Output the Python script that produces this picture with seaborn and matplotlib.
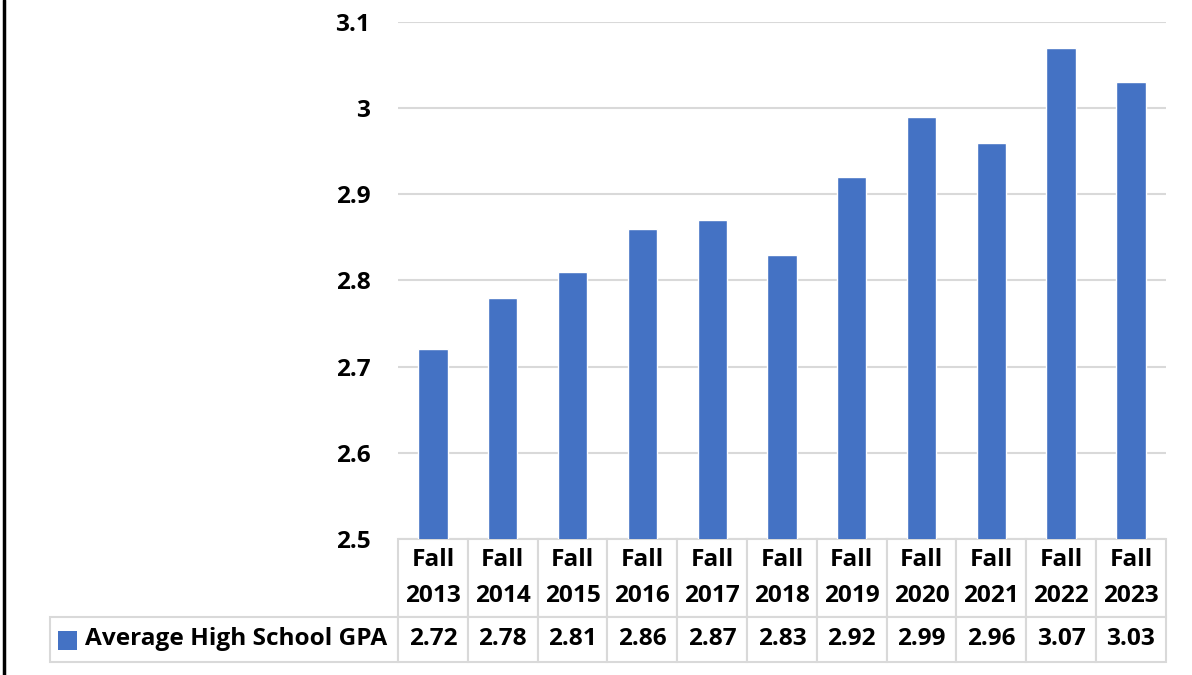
import matplotlib
matplotlib.use("Agg")
import matplotlib.pyplot as plt
import seaborn as sns
import pandas as pd
from matplotlib.patches import Rectangle
from matplotlib.lines import Line2D
from matplotlib.table import Table

# data
terms = ["Fall\n2013", "Fall\n2014", "Fall\n2015", "Fall\n2016", "Fall\n2017", "Fall\n2018",
         "Fall\n2019", "Fall\n2020", "Fall\n2021", "Fall\n2022", "Fall\n2023"]
gpa = [2.72, 2.78, 2.81, 2.86, 2.87, 2.83, 2.92, 2.99, 2.96, 3.07, 3.03]
series_name = "Average High School GPA"
y_ticks = [2.5, 2.6, 2.7, 2.8, 2.9, 3.0, 3.1]
y_tick_labels = ["2.5", "2.6", "2.7", "2.8", "2.9", "3", "3.1"]

bar_color = "#4472C4"
grid_color = "#D9D9D9"
font = "Open Sans"
fs = 17.6

sns.set_theme(style="white")
plt.rcParams["font.family"] = [font, "DejaVu Sans"]
plt.rcParams["font.weight"] = "bold"

df = pd.DataFrame({"term": terms, "gpa": gpa})

fig = plt.figure(figsize=(11.92, 6.75), dpi=100)
ax = fig.add_axes([0.334, 0.2015, 0.644, 0.766])

sns.barplot(data=df, x="term", y="gpa", color=bar_color, width=0.42,
            saturation=1, ax=ax, zorder=3)

ax.set_ylim(2.5, 3.1)
ax.set_yticks(y_ticks)
ax.set_yticklabels(y_tick_labels, fontsize=fs, fontweight="bold", color="black")
ax.tick_params(axis="y", length=0, pad=20)
ax.set_xticks([])
ax.set_xlabel("")
ax.set_ylabel("")
ax.yaxis.grid(True, color=grid_color, linewidth=1.5, zorder=0)
ax.set_axisbelow(True)
for s in ax.spines.values():
    s.set_visible(False)

# data table under the chart
ncol = len(terms)
col_w = 1.0 / ncol
label_w = 348 / 768
head_h = 78 / 517
row_h = 45 / 517
tbl = Table(ax, bbox=[-label_w, -(head_h + row_h), 1 + label_w, head_h + row_h])
tbl.auto_set_font_size(False)
for i, (t, v) in enumerate(zip(terms, gpa)):
    tbl.add_cell(0, i + 1, width=col_w, height=head_h, text=t, loc="center")
    tbl.add_cell(1, i + 1, width=col_w, height=row_h, text=f"{v:.2f}", loc="center")
tbl.add_cell(0, 0, width=label_w, height=head_h, text="", loc="left")
tbl.add_cell(1, 0, width=label_w, height=row_h, text=series_name, loc="left")
for (r, c), cell in tbl.get_celld().items():
    cell.set_edgecolor(grid_color)
    cell.set_linewidth(1.5)
    txt = cell.get_text()
    txt.set_fontsize(fs)
    txt.set_fontweight("bold")
    txt.set_color("black")
    if r == 0:
        txt.set_linespacing(1.65)
tbl[0, 0].visible_edges = ""
ax.add_table(tbl)

# legend key inside the row label cell
ax.add_patch(Rectangle((-0.4427, -0.2147), 0.0247, 0.0368, transform=ax.transAxes,
                       facecolor=bar_color, edgecolor="none", clip_on=False))

# left border of the chart frame
fig.add_artist(Line2D([0.0035, 0.0035], [0, 1], color="black", linewidth=2.5,
                      transform=fig.transFigure))

fig.savefig("out.png", dpi=100, facecolor="white")
